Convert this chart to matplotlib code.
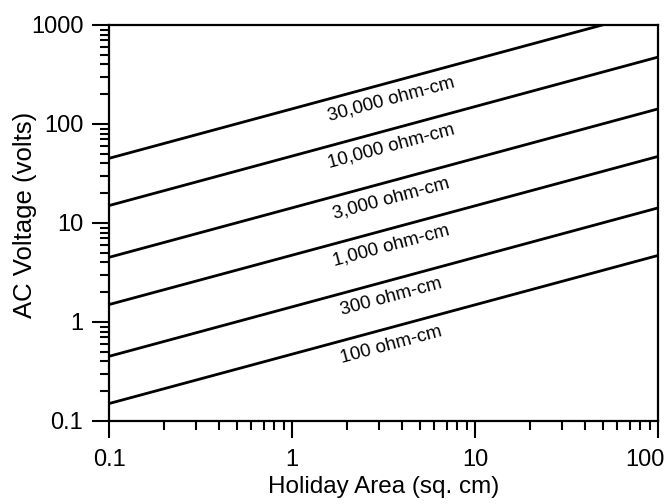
import numpy as np
import matplotlib
matplotlib.use("Agg")
import matplotlib.pyplot as plt
from matplotlib.ticker import FuncFormatter, LogLocator
from matplotlib.transforms import ScaledTranslation

plt.rcParams["font.family"] = ["Liberation Sans", "DejaVu Sans"]

# holiday area end points (sq. cm) and AC voltage read at each end
area = [0.1, 100]
labels = ["30,000 ohm-cm", "10,000 ohm-cm", "3,000 ohm-cm",
          "1,000 ohm-cm", "300 ohm-cm", "100 ohm-cm"]
volts_low = [45, 15, 4.5, 1.5, 0.45, 0.15]
volts_high = [1420, 474, 142, 47, 14.2, 4.7]
label_x = 3.5

fig = plt.figure(figsize=(6.66, 5.04), dpi=100)
ax = fig.add_axes([0.1637, 0.1647, 0.8243, 0.7857])

for lab, v0, v1 in zip(labels, volts_low, volts_high):
    ax.plot(area, [v0, v1], color="black", lw=2.0, solid_capstyle="butt")

ax.set_xscale("log")
ax.set_yscale("log")
ax.set_xlim(0.1, 100)
ax.set_ylim(0.1, 1000)

fmt = FuncFormatter(lambda v, p: "%g" % v)
ax.xaxis.set_major_formatter(fmt)
ax.yaxis.set_major_formatter(fmt)
ax.xaxis.set_minor_locator(LogLocator(base=10, subs=np.arange(2, 10)))
ax.yaxis.set_minor_locator(LogLocator(base=10, subs=np.arange(2, 10)))
ax.xaxis.set_minor_formatter(plt.NullFormatter())
ax.yaxis.set_minor_formatter(plt.NullFormatter())

ax.tick_params(which="major", direction="out", length=12.5, width=1.5,
               labelsize=17, top=False, right=False)
ax.tick_params(axis="x", which="major", pad=8)
ax.tick_params(axis="y", which="major", pad=6)
ax.tick_params(which="minor", direction="out", length=6.5, width=1.5,
               top=False, right=False)
for s in ax.spines.values():
    s.set_linewidth(1.6)

ax.set_xlabel("Holiday Area (sq. cm)", fontsize=17.5, labelpad=3)
ax.set_ylabel("AC Voltage (volts)", fontsize=18.5)
ax.yaxis.set_label_coords(-0.131, 0.52)

# rotate the labels to follow the lines on screen
fig.canvas.draw()
for lab, v0, v1 in zip(labels, volts_low, volts_high):
    p0 = ax.transData.transform((area[0], v0))
    p1 = ax.transData.transform((area[1], v1))
    ang = np.degrees(np.arctan2(p1[1] - p0[1], p1[0] - p0[0]))
    yl = np.exp(np.interp(np.log(label_x), np.log(area), np.log([v0, v1])))
    ax.annotate(lab, (label_x, yl), xytext=(0, -12.5), textcoords="offset points",
                ha="center", va="center", rotation=ang, rotation_mode="anchor",
                fontsize=13.5)

# pull the last x label in from the right edge
for t in ax.xaxis.get_major_ticks():
    if np.isclose(t.get_loc(), 100):
        t.label1.set_transform(t.label1.get_transform() +
                               ScaledTranslation(-0.13, 0, fig.dpi_scale_trans))

fig.savefig("out.png", dpi=100)
